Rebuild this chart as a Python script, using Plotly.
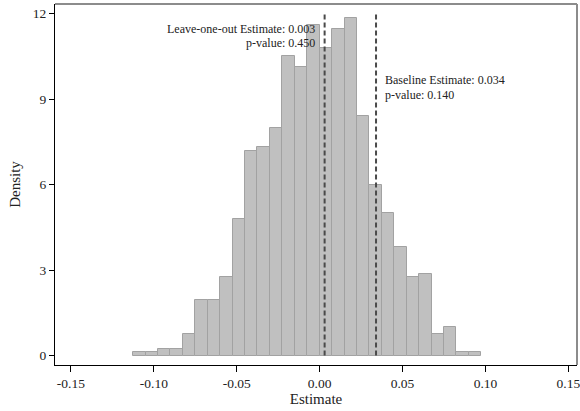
import plotly.graph_objects as go

# ---- data ----
bin_width = 0.0075
bin_start = -0.1125
density = [0.13, 0.13, 0.23, 0.23, 0.75, 1.96, 1.96, 2.76, 4.78, 7.18,
           7.32, 7.99, 10.53, 10.13, 11.61, 10.79, 11.46, 11.86, 8.40, 5.98,
           5.02, 3.81, 2.76, 2.88, 0.75, 1.00, 0.13, 0.13]
bin_centers = [round(bin_start + (i + 0.5) * bin_width, 5) for i in range(len(density))]

loo_estimate = 0.003
loo_pvalue = 0.450
base_estimate = 0.034
base_pvalue = 0.140

x_ticks = [-0.15, -0.10, -0.05, 0.00, 0.05, 0.10, 0.15]
x_ticktext = ["-0.15", "-0.10", "-0.05", "0.00", "0.05", "0.10", "0.15"]
y_ticks = [0, 3, 6, 9, 12]

FONT = "Liberation Serif"

fig = go.Figure()
fig.add_trace(go.Bar(
    x=bin_centers, y=density, width=bin_width,
    marker=dict(color="#c0c0c0", line=dict(color="#a2a2a2", width=1)),
    hoverinfo="skip", showlegend=False,
))

for xv in (loo_estimate, base_estimate):
    fig.add_shape(type="line", xref="x", yref="y", x0=xv, x1=xv, y0=0, y1=12,
                  line=dict(color="#4a4a4a", width=2, dash="5px,3px"))

# gray frame (top & right)
fig.add_shape(type="line", xref="paper", yref="paper", x0=0, x1=1, y0=1, y1=1,
              line=dict(color="#8c8c8c", width=2))
fig.add_shape(type="line", xref="paper", yref="paper", x0=1, x1=1, y0=0, y1=1,
              line=dict(color="#8c8c8c", width=2))

ann_font = dict(family=FONT, size=12, color="#222222")
fig.add_annotation(x=loo_estimate, y=11.46, xref="x", yref="y", xanchor="right", yanchor="middle",
                   xshift=-9, text=f"Leave-one-out Estimate: {loo_estimate:.3f}", showarrow=False,
                   font=ann_font, borderpad=0)
fig.add_annotation(x=loo_estimate, y=10.96, xref="x", yref="y", xanchor="right", yanchor="middle",
                   xshift=-9, text=f"p-value: {loo_pvalue:.3f}", showarrow=False,
                   font=ann_font, borderpad=0)
fig.add_annotation(x=base_estimate, y=9.66, xref="x", yref="y", xanchor="left", yanchor="middle",
                   xshift=8, text=f"Baseline Estimate: {base_estimate:.3f}", showarrow=False,
                   font=ann_font, borderpad=0)
fig.add_annotation(x=base_estimate, y=9.16, xref="x", yref="y", xanchor="left", yanchor="middle",
                   xshift=8, text=f"p-value: {base_pvalue:.3f}", showarrow=False,
                   font=ann_font, borderpad=0)

fig.update_layout(
    width=580, height=411,
    margin=dict(l=55, r=3, t=4, b=46, autoexpand=False),
    plot_bgcolor="white", paper_bgcolor="white",
    font=dict(family=FONT, size=13.5, color="#222222"),
    xaxis=dict(range=[-0.1596, 0.1552], tickvals=x_ticks, ticktext=x_ticktext,
               ticklabeloverflow="allow", automargin=False,
               showgrid=False, zeroline=False, showline=True, linecolor="black", linewidth=1.3,
               ticks="outside", ticklen=6, tickcolor="black", tickwidth=1,
               title=dict(text="Estimate", font=dict(size=15), standoff=1)),
    yaxis=dict(range=[-0.33, 12.337], tickvals=y_ticks, automargin=False,
               showgrid=False, zeroline=False, showline=True, linecolor="black", linewidth=1.3,
               ticks="outside", ticklen=5, tickcolor="black", tickwidth=1,
               title=dict(text="Density", font=dict(size=15), standoff=8)),
    bargap=0,
)

fig.write_html("out.html")
